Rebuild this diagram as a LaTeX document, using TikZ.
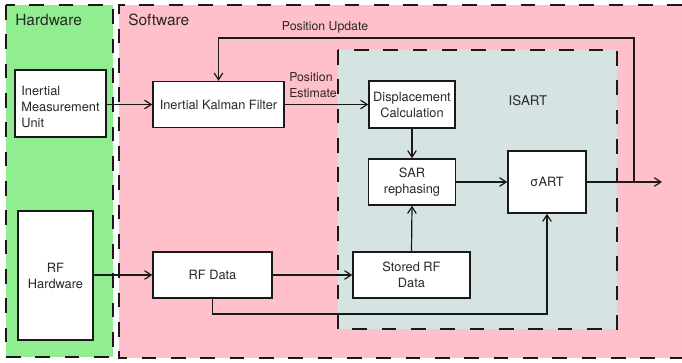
\documentclass[tikz,border=0pt]{standalone}
\usepackage{fontspec}
\setmainfont{TeX Gyre Heros}
\usetikzlibrary{arrows.meta}
\definecolor{hwgreen}{RGB}{144,238,144}
\definecolor{swpink}{RGB}{255,192,203}
\definecolor{isartgray}{RGB}{214,227,227}
\definecolor{ink}{RGB}{25,25,25}
\definecolor{textink}{RGB}{40,40,40}
\tikzset{
  region/.style={draw=ink, line width=1.1pt, dash pattern=on 11pt off 11pt},
  blockbox/.style n args={2}{draw=ink, fill=white, line width=1.1pt, inner sep=0pt,
    align=center, minimum width=#1*0.75pt, minimum height=#2*0.75pt,
    font=\fontsize{9.6}{12}\selectfont, text=textink},
  link/.style={draw=ink, line width=0.9pt},
  arr/.style={link, -{Straight Barb[length=5pt,width=6.5pt,line width=0.9pt]}},
  title/.style={font=\fontsize{11.6}{14}\selectfont, text=textink, inner sep=0pt},
  lbl/.style={font=\fontsize{9.2}{11.5}\selectfont, text=textink, inner sep=0pt}
}
\begin{document}
\begin{tikzpicture}[x=0.75pt, y=-0.75pt]
\useasboundingbox (0,0) rectangle (682,362);
\fill[white] (0,0) rectangle (682,362);

% hardware and software areas
\fill[hwgreen] (6,5) rectangle (113,357);
\draw[region] (6,5) rectangle (113,357);
\fill[swpink] (119,5) rectangle (682,358);
\draw[region] (682,5) -- (119,5) -- (119,358) -- (682,358);
\node[title, anchor=west] (hwt) at (15,20) {Hardware};
\node[title, anchor=west] (swt) at (128,20) {Software};

% ISART block
\fill[isartgray] (338,50) rectangle (617,329);
\draw[region] (338,50) rectangle (617,329);
\node[title, font=\fontsize{10}{12}\selectfont] (isart) at (528,101) {ISART};

% processing blocks
\node[blockbox={91}{67}] (imu) at (60.5,103.5)
  {\raisebox{-3.5pt}[\height][\depth]{\begin{tabular}{@{}l@{}}Inertial\\Measurement\\Unit\end{tabular}}};
\node[blockbox={131}{46}] (ikf) at (218.5,104.5) {Inertial Kalman Filter};
\node[blockbox={86}{47}] (disp) at (412,104.5) {Displacement\\Calculation};
\node[blockbox={87}{46}] (sar) at (412,182) {SAR\\rephasing};
\node[blockbox={78}{62}] (sigma) at (547,182) {σART};
\node[blockbox={75}{129}] (rfhw) at (55.5,275.5) {RF\\Hardware};
\node[blockbox={119}{46}] (rfdata) at (212.5,275) {RF Data};
\node[blockbox={117}{46}] (stored) at (411.5,275) {Stored RF\\Data};

% labels on connectors
\node[lbl] (upd) at (325,27) {Position Update};
\node[lbl, align=left, anchor=west] (est) at (289,85) {Position\\Estimate};

% helper points
\coordinate (out) at (662,182);
\coordinate (tap) at (634,182);
\coordinate (top) at (634,38);
\coordinate (low) at (212.5,314);

% connectors
\draw[arr] (imu.east |- ikf.west) -- (ikf.west);
\draw[arr] (ikf.east) -- (disp.west |- ikf.east);
\draw[arr] (disp.south) -- (sar.north);
\draw[arr] (stored.north) -- (sar.south);
\draw[arr] (sar.east) -- (sigma.west);
\draw[arr] (sigma.east) -- (out);
\draw[arr] (tap) -- (top) -- (ikf.north |- top) -- (ikf.north);
\draw[arr] (rfhw.east |- rfdata.west) -- (rfdata.west);
\draw[arr] (rfdata.east) -- (stored.west);
\draw[arr] (rfdata.south) -- (low) -| (sigma.south);
\end{tikzpicture}
\end{document}
